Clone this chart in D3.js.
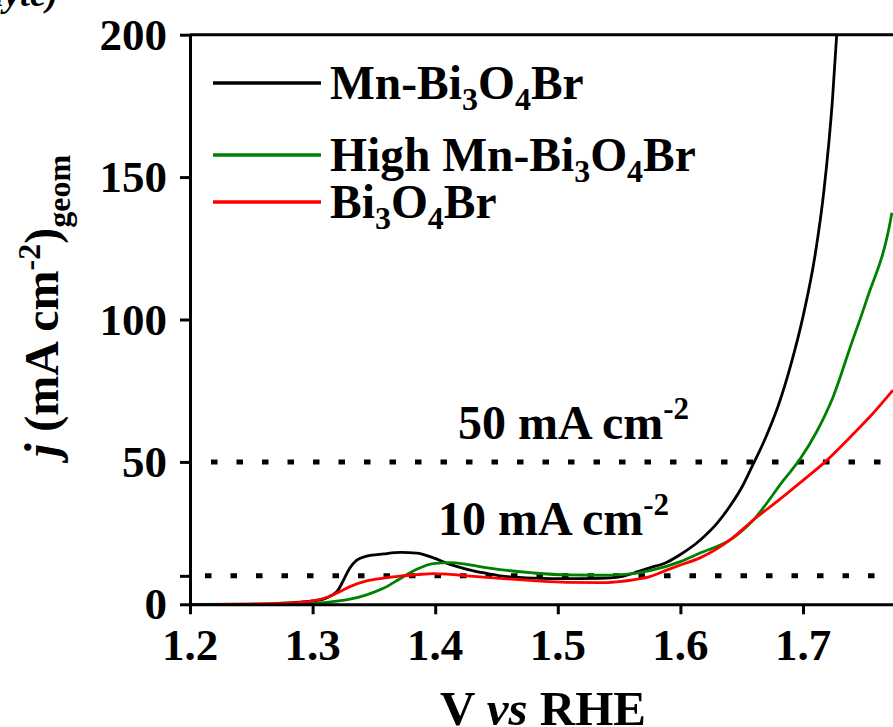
<!DOCTYPE html>
<html>
<head>
<meta charset="utf-8">
<script src="https://cdn.jsdelivr.net/npm/d3@7/dist/d3.min.js"></script>
<style>
  html, body { margin: 0; padding: 0; background: #fff; }
  svg { display: block; }
  text { font-family: "Liberation Serif", "Times New Roman", serif; font-weight: bold; fill: #000; }
</style>
</head>
<body>
<svg id="chart" width="893" height="727"></svg>
<script>
// LSV polarisation curves: potential (V vs RHE) and current density (mA cm^-2)
const mnV = [1.27, 1.29, 1.30, 1.31, 1.315, 1.32, 1.325, 1.33, 1.336, 1.344, 1.358, 1.372, 1.385, 1.398, 1.412, 1.426, 1.44, 1.453, 1.48, 1.51, 1.535, 1.55, 1.562, 1.575, 1.589, 1.60, 1.616, 1.63, 1.6405, 1.65, 1.658, 1.67, 1.68, 1.69, 1.70, 1.71, 1.717, 1.724, 1.7275];
const mnJ = [0.3, 0.8, 1.2, 2.0, 3.0, 4.5, 8.3, 12.5, 15.5, 16.9, 17.7, 18.2, 18.0, 16.4, 14.0, 12.3, 11.0, 10.0, 9.2, 9.0, 9.1, 9.6, 11.0, 12.8, 14.8, 17.5, 22.5, 28.5, 34.5, 41, 48, 59, 70, 84, 101, 123, 145, 177, 200];

const highMnV = [1.20, 1.28, 1.30, 1.317, 1.3305, 1.344, 1.3577, 1.3713, 1.385, 1.3985, 1.412, 1.4257, 1.44, 1.4529, 1.48, 1.507, 1.5344, 1.555, 1.575, 1.60, 1.616, 1.6405, 1.6595, 1.684, 1.6976, 1.711, 1.7247, 1.7383, 1.752, 1.771, 1.7725];
const highMnJ = [0, 0.1, 0.3, 1.0, 1.8, 3.3, 5.6, 9.0, 12.3, 14.3, 14.6, 14.0, 13.0, 12.2, 11.0, 10.3, 10.2, 10.5, 11.8, 15.0, 18.0, 22.6, 29.6, 43.5, 51, 60.5, 73, 90, 107, 134, 137.5];

const bareV = [1.22, 1.27, 1.29, 1.30, 1.31, 1.317, 1.325, 1.3305, 1.344, 1.3577, 1.3713, 1.385, 1.3985, 1.412, 1.4257, 1.4529, 1.48, 1.507, 1.5344, 1.548, 1.5616, 1.575, 1.5888, 1.60, 1.616, 1.6405, 1.6595, 1.68, 1.70, 1.718, 1.738, 1.757, 1.7734];
const bareJ = [0, 0.3, 0.7, 1.2, 2.2, 3.4, 5.0, 6.2, 8.2, 9.2, 9.9, 10.4, 10.8, 10.5, 10.0, 9.1, 8.3, 7.7, 7.6, 7.9, 8.6, 9.7, 12.0, 13.8, 16.3, 22.6, 29.6, 36.5, 43.5, 50, 58.5, 67, 75.2];

const seriesNames = ["Mn-Bi3O4Br", "High Mn-Bi3O4Br", "Bi3O4Br"];
const seriesColors = ["#000000", "#008000", "#ff0000"];

const xTicks = [1.2, 1.3, 1.4, 1.5, 1.6, 1.7];
const yTicks = [0, 10, 50, 100, 150, 200];
const yTickLabels = ["0", "", "50", "100", "150", "200"];
const refLevels = [50, 10];
const refLabels = ["50 mA cm", "10 mA cm"];

const series = [
  { name: seriesNames[0], color: seriesColors[0], pts: mnV.map((v, i) => [v, mnJ[i]]) },
  { name: seriesNames[1], color: seriesColors[1], pts: highMnV.map((v, i) => [v, highMnJ[i]]) },
  { name: seriesNames[2], color: seriesColors[2], pts: bareV.map((v, i) => [v, bareJ[i]]) }
];

const svg = d3.select("#chart");
const x = d3.scaleLinear().domain([1.2, 1.8]).range([190, 925.6]);
const y = d3.scaleLinear().domain([0, 200]).range([604.3, 34.7]);

svg.append("defs").append("clipPath").attr("id", "plot")
  .append("rect").attr("x", x(1.2)).attr("y", y(200) - 2)
  .attr("width", x(1.8) - x(1.2)).attr("height", y(0) - y(200) + 2);

// dotted reference lines
const refStart = [211, 205];
svg.append("g").selectAll("line").data(refLevels).join("line")
  .attr("x1", (d, i) => refStart[i]).attr("x2", 893)
  .attr("y1", d => y(d)).attr("y2", d => y(d))
  .attr("stroke", "#000").attr("stroke-width", 5)
  .attr("stroke-dasharray", "6.5 19");

// curves
const line = d3.line().x(d => x(d[0])).y(d => y(d[1])).curve(d3.curveMonotoneX);
svg.append("g").attr("clip-path", "url(#plot)")
  .selectAll("path").data(series).join("path")
  .attr("d", d => line(d.pts))
  .attr("fill", "none").attr("stroke", d => d.color)
  .attr("stroke-width", 2.8).attr("stroke-linejoin", "round");

// axes
const xAxis = d3.axisBottom(x).tickValues(xTicks).tickSize(10).tickSizeOuter(0).tickFormat("");
const yAxis = d3.axisLeft(y).tickValues(yTicks).tickSize(10).tickSizeOuter(0).tickFormat("");
const gx = svg.append("g").attr("transform", `translate(0,${y(0)})`).call(xAxis);
const gy = svg.append("g").attr("transform", `translate(${x(1.2)},0)`).call(yAxis);
[gx, gy].forEach(g => {
  g.select(".domain").attr("stroke", "#000").attr("stroke-width", 3);
  g.selectAll(".tick line").attr("stroke", "#000").attr("stroke-width", 3);
});
// top frame edge
svg.append("line").attr("x1", x(1.2)).attr("x2", x(1.8))
  .attr("y1", y(200)).attr("y2", y(200))
  .attr("stroke", "#000").attr("stroke-width", 3);

// tick labels
svg.append("g").selectAll("text").data(xTicks).join("text")
  .attr("x", d => x(d)).attr("y", 660)
  .attr("text-anchor", "middle").attr("font-size", 45)
  .text(d => d.toFixed(1));
svg.append("g").selectAll("text").data(yTicks.filter((d, i) => yTickLabels[i] !== "")).join("text")
  .attr("x", 167).attr("y", d => y(d) + 15)
  .attr("text-anchor", "end").attr("font-size", 45)
  .text(d => yTickLabels[yTicks.indexOf(d)]);

// axis titles
const xt = svg.append("text").attr("x", 543).attr("y", 725)
  .attr("text-anchor", "middle").attr("font-size", 49);
xt.append("tspan").text("V ");
xt.append("tspan").attr("font-style", "italic").text("vs");
xt.append("tspan").text(" RHE");

const yt = svg.append("text").attr("transform", "translate(58,306) rotate(-90)")
  .attr("text-anchor", "middle").attr("font-size", 48);
yt.append("tspan").attr("font-style", "italic").text("j");
yt.append("tspan").text(" (mA cm");
yt.append("tspan").attr("font-size", 32).attr("dy", -18).text("-2");
yt.append("tspan").attr("dy", 18).text(")");
yt.append("tspan").attr("font-size", 32).attr("dy", 12).text("geom");

// reference line labels
const refPos = [[458, 439], [438, 535]];
refLabels.forEach((lab, i) => {
  const t = svg.append("text").attr("x", refPos[i][0]).attr("y", refPos[i][1]).attr("font-size", 48);
  t.append("tspan").text(lab);
  t.append("tspan").attr("font-size", 31).attr("dy", -20).text("-2");
});

// legend
const legY = [83, 155, 202];
function chem(t, prefix) {
  t.append("tspan").text(prefix + "Bi");
  t.append("tspan").attr("font-size", 32).attr("dy", 11).text("3");
  t.append("tspan").attr("dy", -11).text("O");
  t.append("tspan").attr("font-size", 32).attr("dy", 11).text("4");
  t.append("tspan").attr("dy", -11).text("Br");
}
const prefixes = ["Mn-", "High Mn-", ""];
series.forEach((s, i) => {
  svg.append("line").attr("x1", 213).attr("x2", 321)
    .attr("y1", legY[i]).attr("y2", legY[i])
    .attr("stroke", s.color).attr("stroke-width", 3.5);
  const t = svg.append("text").attr("x", 330).attr("y", legY[i] + 16).attr("font-size", 47.5);
  chem(t, prefixes[i]);
});

// clipped caption fragment at the top-left corner
svg.append("text").attr("x", 58).attr("y", 6).attr("text-anchor", "end")
  .attr("font-size", 36).attr("font-style", "italic").attr("font-weight", "normal").text("lyte)");
</script>
</body>
</html>
